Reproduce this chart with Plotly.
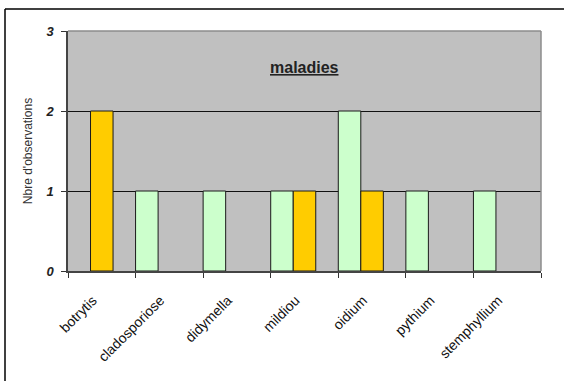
import plotly.graph_objects as go

categories = ["botrytis", "cladosporiose", "didymella", "mildiou", "oidium", "pythium", "stemphyllium"]
green_values = [0, 1, 1, 1, 2, 1, 1]
orange_values = [2, 0, 0, 1, 1, 0, 0]
y_ticks = [0, 1, 2, 3]

def nz(vals):
    return [v if v else None for v in vals]

W, H = 564, 381
L, R, T, B = 68, 23, 31, 110
pw, ph = W - L - R, H - T - B

fig = go.Figure()
fig.add_trace(go.Bar(x=categories, y=nz(green_values), name="g",
                     marker=dict(color="#CCFFCC", line=dict(color="#1a1a1a", width=1)),
                     width=1/3, offset=-0.5))
fig.add_trace(go.Bar(x=categories, y=nz(orange_values), name="o",
                     marker=dict(color="#FFCC00", line=dict(color="#1a1a1a", width=1)),
                     width=1/3, offset=-0.5 + 1/3))

fig.update_layout(
    width=W, height=H,
    margin=dict(l=L, r=R, t=T, b=B, pad=0),
    paper_bgcolor="white", plot_bgcolor="#C0C0C0",
    showlegend=False, barmode="overlay",
    font=dict(family="Liberation Sans", color="#222"),
)
fig.update_xaxes(
    type="category", tickson="boundaries", ticks="outside", ticklen=5, tickcolor="#333",
    showline=True, linecolor="#444", linewidth=1.5, showgrid=False,
    tickangle=-45, ticklabelstandoff=14, ticklabelshift=-9,
    tickfont=dict(family="Liberation Sans", size=14, color="#111"),
)
fig.update_yaxes(
    range=[0, 3], tickvals=y_ticks, ticks="outside", ticklen=5, tickcolor="#333",
    showline=True, linecolor="#444", linewidth=1.5,
    showgrid=True, gridcolor="#111", gridwidth=1, zeroline=False,
    ticklabelstandoff=5,
    tickfont=dict(family="Liberation Sans", size=13, color="#222", weight="bold", style="italic"),
    title=dict(text="Nbre d'observations", font=dict(family="Liberation Sans", size=12, color="#333"), standoff=10),
)
# plot-area border (top, right) in gray
fig.add_shape(type="line", xref="paper", yref="paper", x0=0, x1=1, y0=1, y1=1,
              line=dict(color="#8c8c8c", width=1.5))
fig.add_shape(type="line", xref="paper", yref="paper", x0=1, x1=1, y0=0, y1=1,
              line=dict(color="#8c8c8c", width=1.5))
# outer chart border (left, top)
xl = (5 - L) / pw
yt = 1 + (T - 9) / ph
yb = (H - T - ph - H) / ph - 0.01
fig.add_shape(type="line", xref="paper", yref="paper", x0=xl, x1=xl, y0=yb, y1=yt,
              line=dict(color="black", width=1.5))
fig.add_shape(type="line", xref="paper", yref="paper", x0=xl, x1=(W - L) / pw + 0.01, y0=yt, y1=yt,
              line=dict(color="black", width=1.5))

fig.add_annotation(text="<b><u>maladies</u></b>", xref="paper", yref="paper",
                   x=0.5, y=1 - (57 - T) / ph, showarrow=False,
                   font=dict(family="Liberation Sans", size=16, color="#222"))

fig.write_html("out.html")
